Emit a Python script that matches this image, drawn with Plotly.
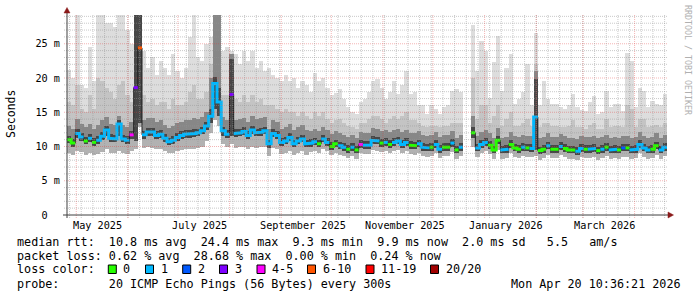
import plotly.graph_objects as go
import pandas as pd

# ---------------- data ----------------
START = "2025-04-25 10:36:21"
END = "2026-04-20 10:36:21"
BIN_DAYS = 2.5

# median round-trip time per 2.5-day bin (ms); None = no data
median_ms = [
    11.0, 10.5, 11.9, 11.4, 10.8, 11.2, 10.6, 10.9, 11.5, 12.4, 11.2, 11.1, 13.3, 11.1, 10.9, 11.7,
    18.6, 24.4,
    11.7, 12.1, 12.1, 11.6, 11.8, 11.2, 10.7, 10.9, 11.3, 11.6, 11.8, 11.8, 11.9, 12.0, 12.3, 13.0,
    14.4, 19.2, 16.5,
    12.3, 11.8, 17.6, 11.9, 12.0, 12.2, 11.6, 12.4, 12.0, 12.1, 12.3, 10.4, 11.9, 11.6, 10.6, 10.8, 11.3, 10.4, 10.8, 11.1, 10.4,
    10.5, 10.7, 10.4, 11.1, 10.6, 10.0, 10.4, 10.1, 9.9, 9.6, 9.9, 9.5, 10.3, 10.2, 10.2, 10.9, 10.8, 10.5, 10.6,
    10.3, 10.6, 10.8, 10.3, 10.6, 10.2, 10.1, 10.4, 9.9, 9.8, 9.9, 10.3, 9.6, 9.9, 9.9, 10.5, 9.5, 9.9,
    None, None,
    12.0, 9.8, 10.3, 10.6, 10.2, 9.5, 10.9, 9.5, 9.6, 10.3, 9.8, 9.6, 9.9, 9.8, 9.7, 14.3, 9.4, 9.6,
    10.1, 9.6, 9.6, 10.0, 9.7, 9.5, 9.5, 9.3, 9.7, 9.6, 9.6, 9.7, 9.4, 9.6, 9.9, 9.5, 9.6, 9.5, 9.8,
    9.8, 9.5, 9.6, 10.3, 9.8, 9.5, 9.6, 10.1, 9.5, 9.9,
]

# loss class per bin: 0:"0" 1:"1" 2:"2" 3:"3" 4:"4-5" 5:"6-10" 6:"11-19" 7:"20/20"
loss_class = [
    0, 0, 1, 1, 0, 1, 0, 1, 1, 1, 1, 1, 1, 1, 1, 4,
    3, 5,
    1, 1, 1, 1, 1, 1, 1, 1, 1, 1, 1, 1, 1, 1, 1, 1,
    1, 1, 1,
    1, 1, 3, 1, 1, 1, 1, 1, 1, 1, 1, 1, 1, 1, 1, 1, 1, 1, 1, 1, 1,
    1, 1, 0, 1, 1, 0, 0, 1, 1, 0, 1, 0, 4, 1, 1, 1, 1, 0, 1,
    0, 1, 1, 1, 1, 0, 0, 1, 1, 1, 0, 1, 1, 0, 0, 1, 0, 1,
    None, None,
    0, 1, 1, 1, 0, 0, 0, 1, 1, 0, 0, 0, 1, 0, 1, 1, 0, 0,
    1, 0, 0, 1, 0, 0, 0, 1, 1, 0, 1, 1, 0, 1, 0, 1, 1, 0, 2,
    0, 1, 1, 1, 1, 1, 0, 0, 1, 1,
]

# smoke: spread of the 20 pings per bin (ms)
smoke_max = [
    21.1, 20.0, 29.5, 19.0, 18.5, 24.5, 19.5, 29.5, 29.5, 28.0, 28.0, 27.5, 29.5, 29.5, 27.0, 25.0,
    29.5, 29.5,
    24.0, 21.5, 23.0, 20.5, 22.5, 21.5, 20.5, 23.5, 21.0, 20.0, 21.5, 26.0, 29.5, 23.0, 22.5, 25.0,
    26.0, 29.5, 29.5,
    24.0, 24.5, 24.0, 23.5, 22.0, 24.0, 22.5, 24.0, 21.5, 22.5, 21.0, 21.5, 20.5, 20.0, 19.5, 20.5, 19.5, 20.0, 18.5, 19.5, 19.0,
    18.0, 20.8, 19.5, 20.0, 18.6, 17.5, 17.8, 18.4, 17.0, 15.8, 15.0, 14.8, 16.5, 17.0, 18.0, 19.5, 19.8, 18.5, 17.0,
    18.0, 19.5, 17.6, 19.0, 21.0, 17.6, 18.0, 16.0, 16.0, 14.8, 16.0, 15.5, 14.8, 15.8, 16.0, 18.1, 18.4, 18.0,
    None, None,
    27.8, 21.0, 25.4, 24.0, 17.1, 22.3, 26.2, 18.1, 21.5, 23.5, 16.2, 17.0, 18.0, 22.0, 16.0, 26.6, 16.0, 19.5,
    17.0, 16.2, 16.2, 15.7, 15.5, 16.0, 17.7, 15.7, 15.4, 15.2, 16.5, 17.4, 14.7, 15.0, 18.1, 15.7, 16.2, 16.2, 15.2,
    23.7, 22.5, 15.7, 18.6, 18.1, 15.7, 16.7, 16.2, 16.0, 17.6,
]
smoke_upper = [
    16.5, 16.0, 19.0, 15.5, 15.0, 17.5, 15.5, 20.0, 19.5, 18.5, 18.0, 17.0, 19.0, 19.5, 17.5, 16.5,
    29.5, 29.5,
    17.5, 16.5, 17.0, 16.0, 16.5, 16.5, 15.5, 17.0, 16.0, 16.0, 16.5, 18.0, 19.0, 17.0, 17.0, 18.0,
    22.0, 29.5, 29.5,
    17.5, 17.5, 23.5, 17.0, 16.5, 17.5, 16.5, 17.5, 16.5, 17.0, 16.0, 16.0, 16.0, 15.5, 15.0, 15.5, 15.0, 15.0, 14.5, 15.0, 14.5,
    14.0, 15.0, 14.5, 15.0, 14.0, 13.5, 13.8, 14.0, 13.5, 13.0, 12.8, 12.5, 13.5, 13.5, 14.0, 14.5, 14.5, 14.0, 13.5,
    14.0, 14.5, 14.0, 14.5, 15.0, 13.8, 13.8, 13.5, 13.0, 12.8, 13.0, 13.0, 12.8, 13.0, 13.0, 13.5, 13.5, 13.5,
    None, None,
    20.0, 14.0, 16.0, 16.0, 13.5, 14.5, 16.0, 13.0, 14.0, 15.0, 13.0, 13.0, 13.5, 14.0, 13.0, 22.0, 12.8, 13.5,
    13.5, 13.0, 13.0, 12.8, 12.8, 13.0, 13.8, 12.8, 12.8, 12.5, 13.2, 13.5, 12.5, 12.5, 14.0, 12.8, 13.0, 13.0, 12.8,
    16.0, 15.5, 12.8, 14.0, 14.0, 12.8, 13.0, 13.2, 12.8, 13.5,
]
smoke_mid = [
    13.0, 12.5, 14.0, 13.3, 12.8, 13.3, 12.6, 13.2, 13.8, 14.3, 13.3, 13.1, 14.5, 13.2, 12.9, 13.6,
    29.5, 29.5,
    13.8, 14.1, 14.1, 13.6, 13.9, 13.2, 12.7, 13.0, 13.4, 13.6, 13.8, 13.9, 14.1, 14.0, 14.3, 15.0,
    20.0, 29.5, 29.5,
    14.3, 13.8, 23.5, 13.9, 14.0, 14.2, 13.6, 14.4, 14.0, 14.1, 14.3, 12.5, 13.9, 13.6, 12.6, 12.8, 13.3, 12.4, 12.8, 13.1, 12.4,
    12.3, 12.5, 12.2, 12.9, 12.4, 11.8, 12.2, 11.9, 11.7, 11.4, 11.7, 11.3, 12.1, 12.0, 12.0, 12.7, 12.6, 12.3, 12.4,
    12.1, 12.4, 12.6, 12.1, 12.4, 12.0, 11.9, 12.2, 11.7, 11.6, 11.7, 12.1, 11.4, 11.7, 11.7, 12.3, 11.3, 11.7,
    None, None,
    14.5, 11.6, 12.1, 12.4, 12.0, 11.3, 12.7, 11.3, 11.4, 12.1, 11.6, 11.4, 11.7, 11.6, 11.5, 21.0, 11.2, 11.4,
    11.9, 11.4, 11.4, 11.8, 11.5, 11.3, 11.3, 11.1, 11.5, 11.4, 11.4, 11.5, 11.2, 11.4, 11.7, 11.3, 11.4, 11.3, 11.6,
    11.6, 11.3, 11.4, 12.1, 11.6, 11.3, 11.4, 11.9, 11.3, 11.7,
]
smoke_core_top = [
    11.6, 11.1, 12.5, 12.0, 11.4, 11.8, 11.2, 11.5, 12.1, 13.0, 11.8, 11.7, 13.9, 11.7, 11.5, 12.3,
    29.5, 29.5,
    12.3, 12.7, 12.7, 12.2, 12.4, 11.8, 11.3, 11.5, 11.9, 12.2, 12.4, 12.4, 12.5, 12.6, 12.9, 13.6,
    15.5, 20.2, 18.5,
    12.9, 12.4, 22.8, 12.5, 12.6, 12.8, 12.2, 13.0, 12.6, 12.7, 12.9, 11.0, 12.5, 12.2, 11.2, 11.4, 11.9, 11.0, 11.4, 11.7, 11.0,
    11.1, 11.3, 11.0, 11.7, 11.2, 10.6, 11.0, 10.7, 10.5, 10.2, 10.5, 10.1, 10.9, 10.8, 10.8, 11.5, 11.4, 11.1, 11.2,
    10.9, 11.2, 11.4, 10.9, 11.2, 10.8, 10.7, 11.0, 10.5, 10.4, 10.5, 10.9, 10.2, 10.5, 10.5, 11.1, 10.1, 10.5,
    None, None,
    12.8, 10.4, 10.9, 11.2, 10.8, 10.1, 11.5, 10.1, 10.2, 10.9, 10.4, 10.2, 10.5, 10.4, 10.3, 19.8, 10.0, 10.2,
    10.7, 10.2, 10.2, 10.6, 10.3, 10.1, 10.1, 9.9, 10.3, 10.2, 10.2, 10.3, 10.0, 10.2, 10.5, 10.1, 10.2, 10.1, 10.4,
    10.4, 10.1, 10.2, 10.9, 10.4, 10.1, 10.2, 10.7, 10.1, 10.5,
]
smoke_core_bottom = [
    10.5, 10.0, 11.2, 10.8, 10.3, 10.6, 10.1, 10.4, 10.9, 11.6, 10.7, 10.6, 11.5, 10.6, 10.4, 11.1,
    10.8, 13.5,
    11.1, 11.5, 11.5, 11.1, 11.3, 10.7, 10.2, 10.4, 10.8, 11.1, 11.3, 11.3, 11.4, 11.5, 11.8, 12.4,
    13.5, 15.5, 14.5,
    11.6, 11.2, 11.5, 11.4, 11.5, 11.7, 11.1, 11.8, 11.5, 11.6, 11.8, 9.8, 11.4, 11.1, 10.1, 10.3, 10.8, 9.9, 10.3, 10.6, 9.9,
    10.0, 10.2, 9.9, 10.6, 10.1, 9.5, 9.9, 9.6, 9.4, 9.1, 9.4, 9.0, 9.8, 9.7, 9.7, 10.4, 10.3, 10.0, 10.1,
    9.8, 10.1, 10.3, 9.8, 10.1, 9.7, 9.6, 9.9, 9.4, 9.3, 9.4, 9.8, 9.1, 9.4, 9.4, 10.0, 9.0, 9.4,
    None, None,
    11.2, 9.3, 9.8, 10.1, 9.7, 9.0, 10.4, 9.0, 9.1, 9.8, 9.3, 9.1, 9.4, 9.3, 9.2, 9.5, 8.9, 9.1,
    9.6, 9.1, 9.1, 9.5, 9.2, 9.0, 9.0, 8.8, 9.2, 9.1, 9.1, 9.2, 8.9, 9.1, 9.4, 9.0, 9.1, 9.0, 9.3,
    9.3, 9.0, 9.1, 9.8, 9.3, 9.0, 9.1, 9.6, 9.0, 9.4,
]
smoke_min = [
    9.0, 8.8, 9.3, 9.2, 8.8, 9.0, 8.7, 8.9, 9.2, 9.6, 9.1, 9.0, 9.3, 9.0, 8.9, 9.4,
    9.6, 12.8,
    9.8, 9.9, 9.8, 9.6, 9.6, 9.3, 9.0, 9.1, 9.3, 9.5, 9.6, 9.6, 9.7, 9.8, 10.0, 10.8,
    12.0, 13.8, 13.0,
    10.3, 10.0, 10.3, 9.8, 9.9, 10.0, 9.6, 10.0, 9.8, 9.9, 10.0, 8.6, 9.8, 9.6, 8.9, 9.0, 9.4, 8.7, 9.0, 9.3, 8.7,
    9.2, 9.4, 9.1, 9.7, 9.3, 8.7, 9.1, 8.8, 8.6, 8.3, 8.6, 8.2, 9.0, 8.9, 8.9, 9.5, 9.4, 9.2, 9.3,
    9.0, 9.3, 9.5, 9.0, 9.3, 8.9, 8.8, 9.1, 8.6, 8.5, 8.6, 9.0, 8.3, 8.6, 8.6, 9.2, 8.2, 8.6,
    None, None,
    10.0, 8.5, 9.0, 9.3, 8.9, 8.2, 9.5, 8.2, 8.3, 9.0, 8.5, 8.3, 8.6, 8.5, 8.4, 8.6, 8.1, 8.3,
    8.8, 8.3, 8.3, 8.7, 8.4, 8.2, 8.2, 8.0, 8.4, 8.3, 8.3, 8.4, 8.1, 8.3, 8.6, 8.2, 8.3, 8.2, 8.5,
    8.5, 8.2, 8.3, 9.0, 8.5, 8.2, 8.3, 8.8, 8.2, 8.6,
]

y_tick_vals = [0, 5, 10, 15, 20, 25]
y_tick_text = ["0\u00a0\u00a0", "5 m", "10 m", "15 m", "20 m", "25 m"]
month_labels = ["May 2025", "July 2025", "September 2025", "November 2025", "January 2026", "March 2026"]
month_label_dates = ["2025-05-01", "2025-07-01", "2025-09-01", "2025-11-01", "2026-01-01", "2026-03-01"]

loss_names = ["0", "1", "2", "3", "4-5", "6-10", "11-19", "20/20"]
loss_colors = ["#26ff00", "#00b8ff", "#0059ff", "#7e00ff", "#ff00ff", "#ff5500", "#ff0000", "#a10000"]

legend_rows = [
    "median rtt:  10.8 ms avg  24.4 ms max  9.3 ms min  9.9 ms now  2.0 ms sd   5.5   am/s",
    "packet loss: 0.62 % avg  28.68 % max  0.00 % min  0.24 % now",
    "loss color:",
    "probe:       20 ICMP Echo Pings (56 Bytes) every 300s",
]
stamp = "Mon Apr 20 10:36:21 2026"

# ---------------- geometry helpers ----------------
W, H = 697, 297
L, R, T, B = 67, 30, 15, 82
PW, PH = W - L - R, H - T - B
Y_MAX = 29.2
FONT = "DejaVu Sans Mono"


def px(xp):
    return (xp - L) / PW


def py(yp):
    return (T + PH - yp) / PH


t0 = pd.Timestamp(START)
t1 = pd.Timestamp(END)
N = len(median_ms)
step = pd.Timedelta(days=BIN_DAYS)
starts = [t0 + step * k for k in range(N)]
ends = [s + step for s in starts]
centers = [s + step / 2 for s in starts]
bar_w = step.total_seconds() * 1000 * 1.01

fig = go.Figure()


def add_band(lower, upper, color):
    xs, bs, hs = [], [], []
    for k in range(N):
        if lower[k] is None or upper[k] is None:
            continue
        xs.append(centers[k])
        bs.append(lower[k])
        hs.append(upper[k] - lower[k])
    fig.add_trace(go.Bar(x=xs, y=hs, base=bs, width=bar_w,
                         marker=dict(color=color, line=dict(width=0)),
                         hoverinfo="skip", showlegend=False))


add_band(smoke_min, smoke_max, "#dddddd")
add_band(smoke_min, smoke_upper, "#c4c4c4")
add_band(smoke_min, smoke_mid, "#b2b2b2")
add_band(smoke_core_bottom, smoke_mid, "#878787")
add_band(smoke_core_bottom, smoke_core_top, "#474747")

# median step line
mx, my = [], []
for k in range(N):
    if median_ms[k] is None:
        mx.append(None)
        my.append(None)
        continue
    mx += [starts[k], ends[k]]
    my += [median_ms[k], median_ms[k]]
fig.add_trace(go.Scatter(x=mx, y=my, mode="lines", line=dict(color="#202020", width=1),
                         hoverinfo="skip", showlegend=False, connectgaps=False))

# coloured median by loss class
for c, col in enumerate(loss_colors):
    cx, cy = [], []
    prev = False
    for k in range(N):
        if loss_class[k] == c and median_ms[k] is not None:
            cx += [starts[k], ends[k]]
            cy += [median_ms[k], median_ms[k]]
            prev = True
        elif prev:
            cx.append(None)
            cy.append(None)
            prev = False
    if cx:
        fig.add_trace(go.Scatter(x=cx, y=cy, mode="lines", line=dict(color=col, width=3),
                                 hoverinfo="skip", showlegend=False, connectgaps=False))

shapes = []
MINOR = "rgba(150,150,150,0.5)"
MAJOR = "rgba(225,60,60,0.38)"
DOT = "1px,1px"
# horizontal grid
for v in range(1, 30):
    if v > Y_MAX:
        break
    shapes.append(dict(type="line", xref="paper", yref="y", x0=-3 / PW, x1=1, y0=v, y1=v,
                       line=dict(color=MAJOR if v % 5 == 0 else MINOR, width=1, dash=DOT), layer="above"))
# weekly vertical grid (Sundays)
d = pd.Timestamp("2025-04-27")
while d < t1:
    shapes.append(dict(type="line", xref="x", yref="paper", x0=d, x1=d, y0=-3 / PH, y1=1,
                       line=dict(color=MINOR, width=1, dash=DOT), layer="above"))
    d += pd.Timedelta(days=7)
# monthly major grid
m = pd.Timestamp("2025-05-01")
while m < t1:
    shapes.append(dict(type="line", xref="x", yref="paper", x0=m, x1=m, y0=-3 / PH, y1=1,
                       line=dict(color=MAJOR, width=1, dash=DOT), layer="above"))
    m = m + pd.offsets.MonthBegin(1)

AX = "#404040"
ARROW = "#8b1a1a"
shapes.append(dict(type="line", xref="paper", yref="paper", x0=px(67), x1=px(67), y0=py(218), y1=py(11),
                   line=dict(color=AX, width=1), layer="above"))
shapes.append(dict(type="line", xref="paper", yref="paper", x0=px(63), x1=px(670), y0=0, y1=0,
                   line=dict(color=AX, width=1), layer="above"))
shapes.append(dict(type="path", xref="paper", yref="paper",
                   path=f"M {px(64)} {py(13)} L {px(70)} {py(13)} L {px(67)} {py(7.5)} Z",
                   fillcolor=ARROW, line=dict(color=ARROW, width=0.5), layer="above"))
shapes.append(dict(type="path", xref="paper", yref="paper",
                   path=f"M {px(668)} {py(212)} L {px(668)} {py(218)} L {px(673.5)} {py(215)} Z",
                   fillcolor=ARROW, line=dict(color=ARROW, width=0.5), layer="above"))

annotations = []
for lab, ds in zip(month_labels, month_label_dates):
    annotations.append(dict(x=pd.Timestamp(ds) + pd.Timedelta(days=13), y=py(225), xref="x", yref="paper",
                            text=lab, showarrow=False, xanchor="center", yanchor="middle",
                            font=dict(family=FONT, size=10.2, color="#000000")))

annotations.append(dict(x=px(11), y=py(114), xref="paper", yref="paper", text="Seconds", textangle=-90,
                        showarrow=False, xanchor="center", yanchor="middle",
                        font=dict(family=FONT, size=11.5, color="#000000")))
annotations.append(dict(x=px(688), y=py(60), xref="paper", yref="paper", text="RRDTOOL / TOBI OETIKER",
                        textangle=90, showarrow=False, xanchor="center", yanchor="middle",
                        font=dict(family=FONT, size=8.3, color="#b0b0b0")))

row_y = [242, 255.5, 269.3, 283.7]
LF = 11.74
for txt, yy in zip(legend_rows, row_y):
    annotations.append(dict(x=px(15.5), y=py(yy), xref="paper", yref="paper",
                            text=txt.replace(" ", "\u00a0"), showarrow=False, xanchor="left",
                            yanchor="middle", borderpad=0,
                            font=dict(family=FONT, size=LF, color="#000000")))
annotations.append(dict(x=px(681.5), y=py(row_y[3]), xref="paper", yref="paper",
                        text=stamp.replace(" ", "\u00a0"), showarrow=False, xanchor="right",
                        yanchor="middle", borderpad=0,
                        font=dict(family=FONT, size=LF, color="#000000")))

box_x = [108.3, 145.5, 182.7, 219.5, 257.0, 307.5, 366.0, 430.5]
for bx, name, col in zip(box_x, loss_names, loss_colors):
    shapes.append(dict(type="rect", xref="paper", yref="paper", x0=px(bx), x1=px(bx + 8),
                       y0=py(273.5), y1=py(265), fillcolor=col, line=dict(color="#000000", width=1)))
    annotations.append(dict(x=px(bx + 14), y=py(row_y[2]), xref="paper", yref="paper",
                            text=name, showarrow=False, xanchor="left", yanchor="middle", borderpad=0,
                            font=dict(family=FONT, size=LF, color="#000000")))

fig.update_layout(
    width=W, height=H,
    margin=dict(l=L, r=R, t=T, b=B, pad=0),
    paper_bgcolor="#ffffff", plot_bgcolor="#ffffff",
    barmode="overlay", bargap=0, showlegend=False, hovermode=False,
    font=dict(family=FONT, color="#000000"),
    xaxis=dict(type="date", range=[t0, t1], showgrid=False, zeroline=False, showticklabels=False,
               ticks="", showline=False, fixedrange=True),
    yaxis=dict(range=[0, Y_MAX], showgrid=False, zeroline=False, tickvals=y_tick_vals,
               ticktext=y_tick_text, ticks="", showline=False, ticklabelstandoff=6,
               tickfont=dict(family=FONT, size=10.2, color="#000000"), fixedrange=True),
    shapes=shapes, annotations=annotations,
)

fig.write_html("out.html", config={"displayModeBar": False, "staticPlot": True})
